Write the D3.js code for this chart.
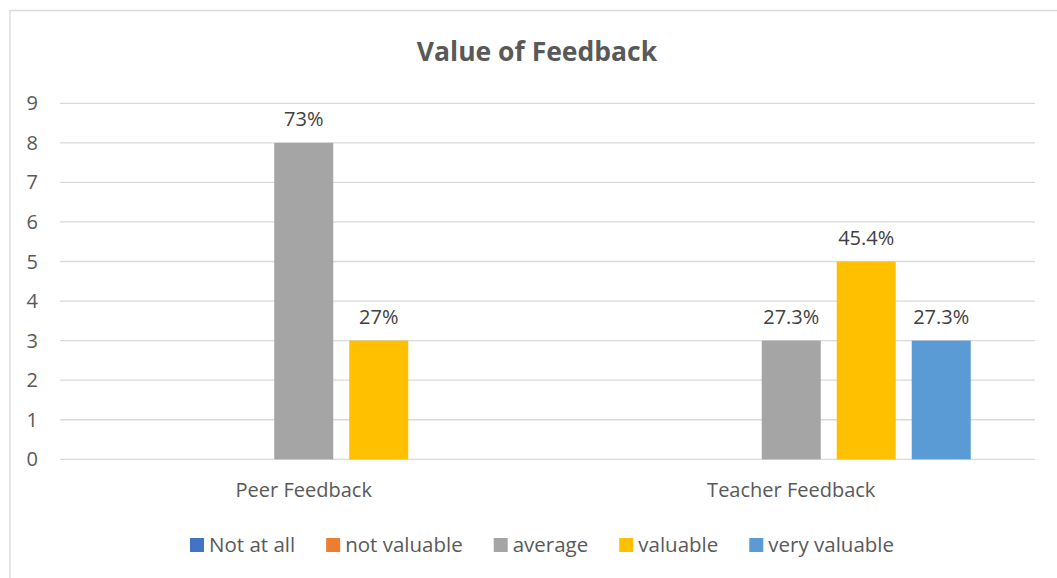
<!DOCTYPE html>
<html>
<head>
<meta charset="utf-8">
<script src="https://cdn.jsdelivr.net/npm/d3@7"></script>
<style>
  body { margin: 0; background: #fff; }
  text { font-family: "Open Sans", sans-serif; }
</style>
</head>
<body>
<svg id="chart" width="1057" height="578"></svg>
<script>
const categories = ["Peer Feedback", "Teacher Feedback"];
const seriesNames = ["Not at all", "not valuable", "average", "valuable", "very valuable"];
const seriesColors = ["#4472C4", "#ED7D31", "#A5A5A5", "#FFC000", "#5B9BD5"];
const peerValues = [0, 0, 8, 3, 0];
const teacherValues = [0, 0, 3, 5, 3];
const peerLabels = ["", "", "73%", "27%", ""];
const teacherLabels = ["", "", "27.3%", "45.4%", "27.3%"];
const yTicks = [0, 1, 2, 3, 4, 5, 6, 7, 8, 9];

const values = [peerValues, teacherValues];
const labels = [peerLabels, teacherLabels];

const svg = d3.select("#chart");
const plotLeft = 60, plotRight = 1035, plotTop = 103.3, plotBottom = 459.3;
const fs = "20px";

// chart frame (top and left edges visible)
svg.append("path")
  .attr("d", "M10,578 L10,10.5 L1057,10.5")
  .attr("fill", "none")
  .attr("stroke", "#d9d9d9")
  .attr("stroke-width", 1.3);

svg.append("text")
  .attr("x", 537)
  .attr("y", 61)
  .attr("text-anchor", "middle")
  .style("font-size", "26.5px")
  .style("font-weight", "bold")
  .attr("fill", "#595959")
  .text("Value of Feedback");

const x0 = d3.scaleBand().domain(categories).range([plotLeft, plotRight]).padding(0);
const x1 = d3.scaleBand().domain(seriesNames).range([0, x0.bandwidth()])
  .paddingInner(0.213).paddingOuter(0.857);
const y = d3.scaleLinear().domain([0, 9]).range([plotBottom, plotTop]);

// gridlines
svg.append("g")
  .selectAll("line")
  .data(yTicks)
  .join("line")
  .attr("x1", plotLeft)
  .attr("x2", plotRight)
  .attr("y1", (d) => y(d))
  .attr("y2", (d) => y(d))
  .attr("stroke", "#d9d9d9")
  .attr("stroke-width", 1.3);

// y tick labels
svg.append("g")
  .selectAll("text")
  .data(yTicks)
  .join("text")
  .attr("x", 38)
  .attr("y", (d) => y(d) + 7)
  .attr("text-anchor", "end")
  .style("font-size", fs)
  .attr("fill", "#595959")
  .text((d) => d);

// bars
const groups = svg.append("g")
  .selectAll("g")
  .data(categories)
  .join("g")
  .attr("transform", (d) => `translate(${x0(d)},0)`);

groups.selectAll("rect")
  .data((d, i) => seriesNames.map((s, j) => ({ s, v: values[i][j], c: seriesColors[j] })))
  .join("rect")
  .attr("x", (d) => x1(d.s))
  .attr("width", x1.bandwidth())
  .attr("y", (d) => y(d.v))
  .attr("height", (d) => y(0) - y(d.v))
  .attr("fill", (d) => d.c);

groups.selectAll("text")
  .data((d, i) => seriesNames.map((s, j) => ({ s, v: values[i][j], t: labels[i][j] })))
  .join("text")
  .attr("x", (d) => x1(d.s) + x1.bandwidth() / 2)
  .attr("y", (d) => y(d.v) - 17)
  .attr("text-anchor", "middle")
  .style("font-size", fs)
  .attr("fill", "#404040")
  .text((d) => d.t);

// category labels
svg.append("g")
  .selectAll("text")
  .data(categories)
  .join("text")
  .attr("x", (d) => x0(d) + x0.bandwidth() / 2)
  .attr("y", 497)
  .attr("text-anchor", "middle")
  .style("font-size", fs)
  .attr("fill", "#595959")
  .text((d) => d);

// legend
const legend = svg.append("g");
const items = legend.selectAll("g")
  .data(seriesNames)
  .join("g");
items.append("rect")
  .attr("width", 14)
  .attr("height", 14)
  .attr("y", 538)
  .attr("fill", (d, i) => seriesColors[i]);
items.append("text")
  .attr("x", 19)
  .attr("y", 552)
  .style("font-size", "20.5px")
  .attr("fill", "#595959")
  .text((d) => d);

let widths = [];
items.each(function () {
  widths.push(19 + d3.select(this).select("text").node().getComputedTextLength());
});
const gap = 31;
const total = d3.sum(widths) + gap * (widths.length - 1);
let cx = 542 - total / 2;
items.attr("transform", (d, i) => {
  const pos = cx;
  cx += widths[i] + gap;
  return `translate(${pos},0)`;
});
</script>
</body>
</html>
